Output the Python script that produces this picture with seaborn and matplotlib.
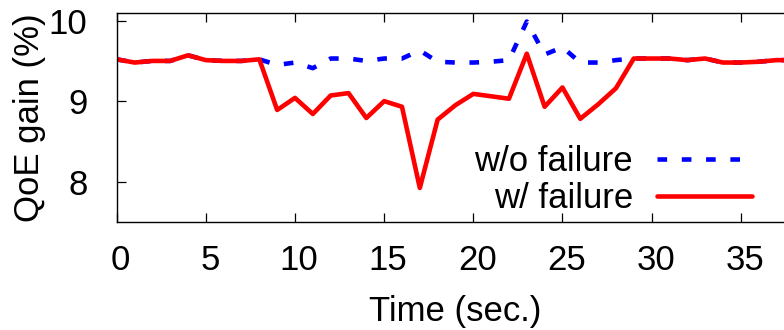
import matplotlib
matplotlib.use("Agg")
import matplotlib.pyplot as plt
import matplotlib.transforms as mtransforms
import seaborn as sns
import pandas as pd

time_sec = list(range(0, 39))
wo_failure = [9.52, 9.48, 9.50, 9.50, 9.57, 9.51, 9.50, 9.50, 9.52, 9.45,
              9.48, 9.41, 9.53, 9.53, 9.50, 9.53, 9.53, 9.63, 9.49, 9.48,
              9.48, 9.49, 9.51, 9.99, 9.58, 9.67, 9.48, 9.48, 9.51, 9.53,
              9.53, 9.53, 9.51, 9.53, 9.48, 9.48, 9.49, 9.51, 9.51]
w_failure = [9.52, 9.48, 9.50, 9.50, 9.57, 9.51, 9.50, 9.50, 9.52, 8.89,
             9.04, 8.84, 9.07, 9.10, 8.79, 9.00, 8.93, 7.92, 8.77, 8.95,
             9.09, 9.06, 9.03, 9.59, 8.93, 9.17, 8.78, 8.96, 9.16, 9.53,
             9.53, 9.53, 9.51, 9.53, 9.48, 9.48, 9.49, 9.51, 9.51]
series_names = ["w/o failure", "w/ failure"]
x_ticks = [0, 5, 10, 15, 20, 25, 30, 35]
y_ticks = [8, 9, 10]

sns.set_theme(style="white")
plt.rcParams["font.family"] = ["Liberation Sans", "DejaVu Sans"]
plt.rcParams["text.color"] = "black"
plt.rcParams["axes.labelcolor"] = "black"
plt.rcParams["xtick.color"] = "black"
plt.rcParams["ytick.color"] = "black"

W, H = 784, 330
fig = plt.figure(figsize=(W / 100, H / 100), dpi=100)
px_per_unit = 17.83
ax = fig.add_axes([116.7 / W, 1 - 221.7 / H, 40 * px_per_unit / W, 209.0 / H])

df_wo = pd.DataFrame({"t": time_sec, "v": wo_failure})
df_w = pd.DataFrame({"t": time_sec, "v": w_failure})

sns.lineplot(data=df_wo, x="t", y="v", ax=ax, color="#0000ff", linewidth=3.3,
             label=series_names[0], dashes=False)
ax.lines[-1].set_dashes([2.1, 3.2])
ax.lines[-1].set_dash_capstyle("butt")
sns.lineplot(data=df_w, x="t", y="v", ax=ax, color="#ff0000", linewidth=3.3,
             label=series_names[1])

ax.set_xlim(0, 40)
ax.set_ylim(7.5, 10.1)
ax.set_xticks(x_ticks)
ax.set_yticks(y_ticks)
fs = 25
ax.tick_params(axis="both", direction="in", length=6.5, width=0.9, colors="black",
               labelsize=fs, top=True, bottom=True, left=True, right=False)
ax.tick_params(axis="x", pad=16)
ax.tick_params(axis="y", pad=21)
offset = mtransforms.ScaledTranslation(4 / 100, 0, fig.dpi_scale_trans)
for lab in ax.get_xticklabels():
    lab.set_transform(lab.get_transform() + offset)
for s in ax.spines.values():
    s.set_color("black")
    s.set_linewidth(1.0)
ax.set_xlabel("Time (sec.)", fontsize=fs, labelpad=13, color="black")
ax.xaxis.label.set_x((455 - 116.7) / (40 * px_per_unit))
ax.set_ylabel("QoE gain (%)", fontsize=fs, labelpad=2, color="black")

fsp = fs * 100 / 72
leg = ax.legend(loc="center right", bbox_to_anchor=(752 / W, 1 - 180 / H),
                bbox_transform=fig.transFigure, frameon=False, markerfirst=False,
                fontsize=fs, handlelength=95 / fsp, handletextpad=24 / fsp,
                labelspacing=0.12, borderpad=0, borderaxespad=0)
for t in leg.get_texts():
    t.set_color("black")

fig.savefig("out.png", dpi=100)
